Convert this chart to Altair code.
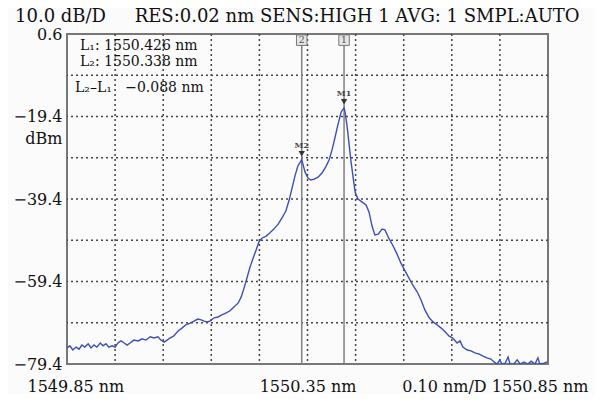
import altair as alt
import pandas as pd

# ---- data ----
wavelength_nm = [
    1549.850, 1549.856, 1549.862, 1549.869, 1549.875, 1549.881, 1549.887, 1549.894, 1549.900, 1549.906,
    1549.912, 1549.919, 1549.925, 1549.931, 1549.937, 1549.944, 1549.950, 1549.956, 1549.962, 1549.969,
    1549.975, 1549.981, 1549.989, 1549.998, 1550.006, 1550.014, 1550.023, 1550.031, 1550.039, 1550.045,
    1550.052, 1550.058, 1550.064, 1550.072, 1550.081, 1550.089, 1550.097, 1550.106, 1550.114, 1550.122,
    1550.129, 1550.135, 1550.141, 1550.147, 1550.156, 1550.164, 1550.172, 1550.181, 1550.189, 1550.197,
    1550.206, 1550.212, 1550.218, 1550.224, 1550.230, 1550.237, 1550.243, 1550.249, 1550.255, 1550.264,
    1550.272, 1550.280, 1550.289, 1550.297, 1550.305, 1550.312, 1550.318, 1550.324, 1550.330, 1550.338,
    1550.341, 1550.345, 1550.351, 1550.357, 1550.364, 1550.372, 1550.380, 1550.388, 1550.395, 1550.401,
    1550.407, 1550.413, 1550.420, 1550.426, 1550.428, 1550.432, 1550.436, 1550.440, 1550.445, 1550.449,
    1550.455, 1550.463, 1550.472, 1550.478, 1550.484, 1550.490, 1550.497, 1550.505, 1550.511, 1550.519,
    1550.528, 1550.536, 1550.544, 1550.553, 1550.561, 1550.569, 1550.578, 1550.586, 1550.594, 1550.603,
    1550.611, 1550.619, 1550.628, 1550.636, 1550.644, 1550.652, 1550.661, 1550.667, 1550.673, 1550.682,
    1550.690, 1550.698, 1550.707, 1550.715, 1550.723, 1550.731, 1550.738, 1550.744, 1550.750, 1550.754,
    1550.761, 1550.767, 1550.771, 1550.779, 1550.786, 1550.792, 1550.800, 1550.808, 1550.815, 1550.823,
    1550.829, 1550.833, 1550.842, 1550.848,
]
power_dbm = [
    -75.5, -75.0, -76.0, -75.3, -75.8, -74.8, -75.3, -74.5, -75.5, -74.8,
    -75.3, -74.3, -75.0, -74.5, -75.3, -75.0, -75.3, -74.3, -73.8, -74.3,
    -74.8, -74.3, -73.6, -73.8, -73.3, -73.6, -72.8, -73.1, -72.8, -73.6,
    -74.1, -73.6, -73.1, -72.6, -71.4, -70.7, -69.9, -69.5, -69.0, -68.5,
    -68.7, -69.0, -69.2, -69.0, -68.2, -68.0, -67.5, -67.0, -66.5, -65.6,
    -64.6, -63.2, -61.0, -58.6, -56.1, -53.7, -51.8, -49.8, -48.9, -48.4,
    -47.6, -46.7, -45.5, -44.0, -42.3, -39.6, -36.7, -33.8, -31.4, -29.9,
    -31.2, -32.9, -34.3, -34.8, -34.6, -34.1, -33.1, -31.6, -29.9, -27.5,
    -24.6, -21.5, -18.3, -17.3, -18.3, -21.5, -25.6, -29.9, -34.3, -37.7,
    -39.4, -40.1, -40.9, -42.6, -45.9, -48.1, -47.9, -46.7, -46.9, -48.9,
    -50.8, -52.7, -54.9, -56.9, -58.6, -60.3, -61.9, -63.9, -66.3, -68.2,
    -69.2, -69.9, -70.7, -71.6, -72.6, -73.1, -74.3, -73.8, -75.3, -76.0,
    -76.2, -76.7, -77.0, -77.5, -77.9, -78.2, -78.9, -79.4, -78.4, -79.4,
    -79.2, -77.7, -79.4, -79.4, -78.4, -79.4, -78.9, -79.4, -78.7, -79.4,
    -77.9, -79.4, -79.2, -78.9,
]

x_min, x_max = 1549.85, 1550.85
y_min, y_max = -79.4, 0.6
x_grid = [1549.95, 1550.05, 1550.15, 1550.25, 1550.35, 1550.45, 1550.55, 1550.65, 1550.75]
y_grid = [-69.4, -59.4, -49.4, -39.4, -29.4, -19.4, -9.4]
y_labels = [0.6, -19.4, -39.4, -59.4, -79.4]
x_labels = [1549.85, 1550.35, 1550.85]

marker_ids = ["1", "2"]
marker_wl = [1550.426, 1550.338]
marker_peak = [-17.3, -29.9]
marker_tag = ["M1", "M2"]
marker_top = [-0.9, -0.9]

title_text = "10.0 dB/D\u00a0\u00a0\u00a0\u00a0 RES:0.02 nm SENS:HIGH 1 AVG: 1 SMPL:AUTO"
info_lines = ["L\u2081: 1550.426 nm", "L\u2082: 1550.338 nm"]
diff_line = "L\u2082\u2013L\u2081\u00a0\u00a0\u00a0\u22120.088 nm"

FONT = "DejaVu Serif"
W, H = 481, 330

spec = pd.DataFrame({"wl": wavelength_nm, "p": power_dbm})
markers = pd.DataFrame({"id": marker_ids, "wl": marker_wl, "peak": marker_peak,
                        "tag": marker_tag, "top": marker_top})

xs = alt.Scale(domain=[x_min, x_max], nice=False, zero=False)
ys = alt.Scale(domain=[y_min, y_max], nice=False, zero=False)

label_expr_x = ("datum.value < 1550 ? '1549.85 nm' : datum.value > 1550.5 ? "
                "'0.10 nm/D 1550.85 nm' : '1550.35 nm'")

x_axis = dict(values=x_labels, labelExpr=label_expr_x, title=None, grid=False, ticks=False,
              domain=False, labelFlush=True, labelFlushOffset=40, labelFont=FONT,
              labelFontSize=16, labelColor="#111", labelPadding=14, labelOverlap=False,
              labelLimit=400)
y_axis = dict(values=y_labels, labelExpr="replace(format(datum.value, '.1f'), '-', '\u2212')",
              grid=False, ticks=False, domain=False, labelFont=FONT, labelFontSize=16,
              labelColor="#111", labelPadding=5, labelOverlap=False, labelFlush=False,
              title="dBm", titleAngle=0, titleAlign="right", titleBaseline="middle",
              titleX=-5, titleY=104, titleFont=FONT, titleFontSize=16,
              titleFontWeight="normal", titleColor="#111")


def XE(f):
    return alt.X(f, scale=xs, axis=alt.Axis(**x_axis))


def YE(f):
    return alt.Y(f, scale=ys, axis=alt.Axis(**y_axis))


base = alt.Chart(spec).mark_line(color="#3d4fb3", strokeWidth=1.4, clip=True).encode(
    x=XE("wl:Q"), y=YE("p:Q"))

vgrid = alt.Chart(pd.DataFrame({"g": x_grid})).mark_rule(
    color="#444", strokeDash=[2, 3], strokeWidth=1.5).encode(x=XE("g:Q"))
hgrid = alt.Chart(pd.DataFrame({"g": y_grid})).mark_rule(
    color="#444", strokeDash=[2, 3], strokeWidth=1.5).encode(y=YE("g:Q"))

mk = alt.Chart(markers)
mrules = mk.mark_rule(color="#808080", strokeWidth=1.5).encode(x=XE("wl:Q"))
mbox = mk.mark_point(shape="square", size=110, filled=True, fill="#e6e6e6",
                     stroke="#777", strokeWidth=1, opacity=1).encode(
    x=XE("wl:Q"), y=YE("top:Q"))
mboxt = mk.mark_text(font=FONT, fontSize=10, color="#555").encode(
    x=XE("wl:Q"), y=YE("top:Q"), text="id:N")
mtri = mk.mark_point(shape="triangle-down", size=40, filled=True, color="#333",
                     opacity=1, yOffset=-6).encode(x=XE("wl:Q"), y=YE("peak:Q"))
mtag = mk.mark_text(font=FONT, fontSize=8, color="#444", dy=-14, fontWeight="bold").encode(
    x=XE("wl:Q"), y=YE("peak:Q"), text="tag:N")

info1 = alt.Chart(pd.DataFrame({"t": [info_lines[0]]})).mark_text(
    font=FONT, fontSize=14, color="#111", align="left", baseline="middle").encode(
    x=alt.value(13), y=alt.value(12), text="t:N")
info2 = alt.Chart(pd.DataFrame({"t": [info_lines[1]]})).mark_text(
    font=FONT, fontSize=14, color="#111", align="left", baseline="middle").encode(
    x=alt.value(13), y=alt.value(28), text="t:N")
diff = alt.Chart(pd.DataFrame({"t": [diff_line]})).mark_text(
    font=FONT, fontSize=14, color="#111", align="left", baseline="middle").encode(
    x=alt.value(8), y=alt.value(54), text="t:N")

chart = alt.layer(vgrid, hgrid, mrules, base, mbox, mboxt, mtri, mtag, info1, info2, diff).properties(
    width=W, height=H,
    autosize=alt.AutoSizeParams(type="none"),
    padding={"left": 59, "top": 26, "right": 47, "bottom": 30},
    title=alt.TitleParams(text=title_text, anchor="start", frame="group", dx=-52, offset=0,
                          font=FONT, fontSize=18, fontWeight="normal", color="#111"),
    background="#fbfbfb",
).configure_view(stroke="#777", strokeWidth=2)

chart.save("out.html", embed_options={"renderer": "svg", "actions": False})
